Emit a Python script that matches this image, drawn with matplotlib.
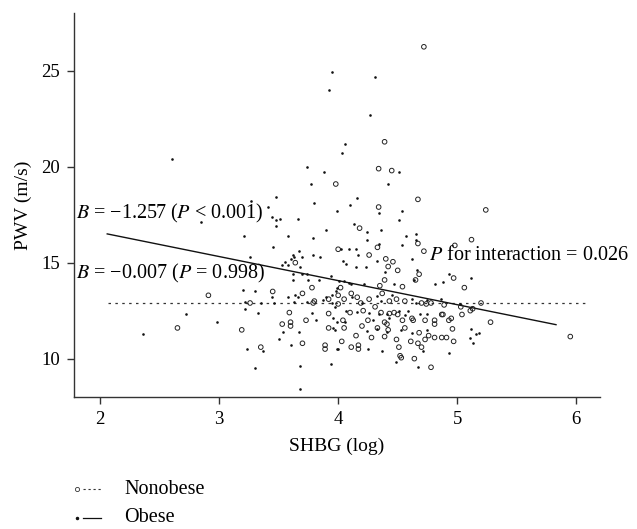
import matplotlib
matplotlib.use("Agg")
import matplotlib.pyplot as plt
from matplotlib.lines import Line2D

plt.rcParams['font.family'] = ['Liberation Serif', 'DejaVu Serif']
plt.rcParams['mathtext.fontset'] = 'stix'

# nonobese (open circles)
non_x = [2.65, 2.91, 3.19, 3.26, 3.35, 3.45, 3.53, 3.59, 3.60, 3.60, 3.70, 3.73, 3.70, 3.79, 3.64, 3.78,
         3.98, 4.72, 4.39, 4.34, 4.45, 4.67, 5.24, 4.34, 4.18, 4.67, 5.12, 4.98, 4.33, 4.72, 4.00, 4.26,
         3.80, 3.92, 3.92, 3.92, 3.89, 3.89,
         4.40, 4.42, 4.46, 4.50, 4.68, 4.65, 4.39, 4.35, 4.54, 4.02, 4.11, 4.37, 4.00, 4.05, 4.16, 4.26,
         4.43, 4.49, 4.56, 4.70, 4.74, 4.78, 4.00, 4.19, 4.31, 4.10, 4.21, 4.36, 4.43, 4.47, 4.50, 4.04,
         4.25, 4.39, 4.41, 4.54, 4.62, 4.63, 4.73, 4.81, 4.05, 4.20, 4.33, 4.42, 4.56, 4.68, 4.81, 4.15,
         4.28, 4.39, 4.49, 4.03, 4.61, 4.67, 4.70, 4.73, 4.76, 4.81, 4.11, 4.17, 4.17, 4.51, 4.52, 4.53,
         4.64, 4.78,
         4.97, 5.06, 4.89, 5.03, 5.11, 5.13, 5.20, 4.87, 4.88, 5.04, 4.93, 4.95, 5.28, 4.96, 4.87, 4.91,
         4.97, 5.95]
non_y = [11.6, 13.3, 11.5, 12.9, 10.6, 13.5, 11.8, 12.4, 11.9, 11.7, 10.8, 12.0, 13.4, 12.9, 15.0, 13.7,
         19.1, 26.25, 21.3, 19.9, 19.8, 18.3, 17.75, 17.9, 16.8, 16.0, 16.2, 15.9, 15.8, 15.6, 15.7, 15.4,
         13.0, 13.1, 12.35, 11.6, 10.7, 10.5,
         15.2, 14.8, 15.05, 14.6, 14.4, 14.1, 14.1, 13.8, 13.75, 13.7, 13.4, 13.4, 13.3, 13.1, 13.2, 13.1,
         13.0, 13.1, 13.0, 12.9, 12.85, 12.9, 12.85, 12.9, 12.7, 12.4, 12.5, 12.4, 12.35, 12.4, 12.3, 12.0,
         12.0, 11.9, 11.8, 12.0, 12.1, 12.0, 12.0, 12.0, 11.6, 11.7, 11.6, 11.5, 11.6, 11.35, 11.8, 11.2,
         11.1, 11.15, 11.0, 10.9, 10.9, 10.8, 10.6, 11.0, 11.2, 11.1, 10.6, 10.7, 10.5, 10.6, 10.15, 10.05,
         10.0, 9.55,
         14.2, 13.7, 12.8, 12.7, 12.5, 12.6, 12.9, 12.3, 12.3, 12.3, 12.0, 12.1, 11.9, 11.55, 11.1, 11.1,
         10.9, 11.15]

# obese (small dots)
ob_x = [2.60, 2.36, 2.72, 2.98, 3.20, 3.23, 3.30, 3.22, 3.33, 3.35, 3.37, 3.44, 3.50, 3.54, 3.60, 3.67,
        3.68, 3.68, 3.62, 3.64, 3.78, 3.81,
        3.74, 3.77, 3.80, 3.48, 3.41, 3.66, 3.44, 3.48, 3.51, 3.48, 3.27, 2.85, 3.21, 3.58, 3.79, 3.45,
        3.26, 3.88, 3.99, 3.90,
        3.95, 4.31, 3.92, 4.27, 4.06, 4.03, 4.51, 4.42, 4.10, 4.16, 4.34, 4.54, 4.51, 4.13, 4.24, 4.36,
        4.24, 4.57, 4.65, 4.65, 4.54, 4.09, 4.15, 4.34,
        3.67, 3.62, 3.63, 3.60, 3.70, 3.79, 3.85, 3.55, 3.53, 3.58, 3.68, 3.62, 3.70, 3.74, 3.75, 3.84,
        3.94, 3.30, 3.58, 3.66, 3.90, 3.95, 3.99,
        3.22, 3.46, 3.63, 3.74, 3.87, 3.95, 3.96, 3.96, 3.99, 3.99, 3.94,
        4.02, 4.04, 4.07, 4.15, 4.17, 4.23, 4.33, 4.39, 4.62, 4.66, 4.64, 4.81, 4.01, 4.05, 4.09, 4.11,
        4.22, 4.47, 3.98, 4.12, 4.20, 4.33, 4.36, 4.45, 4.62, 4.65, 4.75, 3.97, 4.07, 4.16, 4.26, 4.34,
        4.41, 4.51, 4.59, 4.69, 4.29, 4.43, 4.56, 4.75, 3.97, 4.06, 4.24, 4.33, 4.41, 4.53, 4.62, 4.75,
        4.00, 4.25, 4.37, 4.71, 4.49, 4.67,
        4.88, 4.93, 5.12, 4.86, 5.02, 5.12, 5.16, 5.18, 5.11, 5.13, 4.93]
ob_y = [20.4, 11.3, 12.3, 11.9, 13.6, 10.5, 9.5, 12.6, 12.4, 12.9, 10.4, 13.2, 11.0, 11.4, 10.7, 11.4,
        9.6, 8.4, 14.1, 13.3, 12.4, 12.0,
        20.0, 19.1, 18.1, 18.4, 17.9, 17.3, 17.4, 17.2, 17.3, 16.9, 18.2, 17.1, 16.4, 16.4, 16.3, 15.8,
        15.3, 19.7, 17.7, 16.7,
        24.95, 24.7, 24.0, 22.7, 21.2, 20.7, 19.7, 19.1, 18.0, 18.35, 17.6, 17.7, 17.2, 17.0, 16.6, 16.7,
        16.2, 16.4, 16.5, 16.2, 15.9, 15.7, 15.7, 15.95,
        15.6, 15.4, 15.3, 15.2, 15.3, 15.4, 15.3, 15.05, 14.9, 14.9, 14.8, 14.4, 14.4, 14.4, 14.1, 14.1,
        14.3, 13.5, 13.2, 13.2, 13.2, 13.3, 13.7,
        12.95, 12.9, 12.95, 12.95, 13.05, 12.9, 12.1, 11.6, 11.9, 10.5, 9.7,
        15.7, 15.1, 14.95, 14.8, 15.4, 14.8, 15.1, 14.5, 15.2, 14.6, 14.1, 13.9, 14.05, 14.05, 13.95, 13.9,
        13.9, 13.9, 13.5, 13.2, 12.9, 13.25, 13.0, 13.3, 13.1, 12.9, 13.05, 12.7, 12.5, 12.45, 12.4, 12.35,
        12.3, 12.5, 12.5, 12.35, 12.0, 12.1, 12.25, 12.3, 11.5, 11.9, 11.45, 11.55, 11.4, 11.5, 11.35, 11.5,
        10.5, 10.5, 10.4, 10.4, 9.8, 9.55,
        14.0, 14.4, 14.2, 13.1, 12.85, 11.55, 11.3, 11.35, 11.1, 10.8, 10.3]

# fitted lines
non_line_x = [2.07, 6.08]
non_line_y = [12.92, 12.92]
ob_line_x = [2.06, 5.83]
ob_line_y = [16.5, 11.77]

fig = plt.figure(figsize=(6.37, 5.29), dpi=100)
ax = fig.add_axes([0.116, 0.2495, 0.826, 0.7255])

ax.scatter(non_x, non_y, s=11, facecolors='none', edgecolors='#222222', linewidths=0.7, zorder=3)
ax.scatter(ob_x, ob_y, s=3.5, color='#111111', linewidths=0, zorder=3)
ax.plot(non_line_x, non_line_y, color='#333333', lw=0.9, linestyle=(0, (2, 3.5)))
ax.plot(ob_line_x, ob_line_y, color='#111111', lw=1.0)

ax.set_xlim(1.78, 6.2)
ax.set_ylim(8, 28)
ax.set_xticks([2, 3, 4, 5, 6])
ax.set_yticks([10, 15, 20, 25])
for s in ['top', 'right']:
    ax.spines[s].set_visible(False)
for s in ['left', 'bottom']:
    ax.spines[s].set_color('#333333')
    ax.spines[s].set_linewidth(1.0)
ax.tick_params(direction='out', length=5, width=1, color='#333333', labelsize=13.5, pad=5)
ax.set_xlabel('SHBG (log)', fontsize=14, labelpad=7)
ax.set_ylabel('PWV (m/s)', fontsize=14, labelpad=7)

ax.text(1.80, 17.55, r'$B$ = −1.257 ($P$ < 0.001)', fontsize=14.5, va='center', ha='left')
ax.text(1.80, 14.43, r'$B$ = −0.007 ($P$ = 0.998)', fontsize=14.5, va='center', ha='left')
ax.text(4.76, 15.36, r'$P$ for interaction = 0.026', fontsize=14.5, va='center', ha='left')

# legend below the axes
fig.add_artist(Line2D([77 / 637], [1 - 489 / 529], marker='o', markersize=3, mfc='none',
                      mec='#333333', mew=0.6, linestyle='none', transform=fig.transFigure))
fig.add_artist(Line2D([83 / 637, 101 / 637], [1 - 489 / 529] * 2, color='#333333', lw=0.8,
                      linestyle=(0, (2, 2.5)), transform=fig.transFigure))
fig.add_artist(Line2D([77 / 637], [1 - 518 / 529], marker='o', markersize=1.5, color='#111111',
                      linestyle='none', transform=fig.transFigure))
fig.add_artist(Line2D([83 / 637, 101 / 637], [1 - 518 / 529] * 2, color='#111111', lw=0.9,
                      transform=fig.transFigure))
fig.text(124 / 637, 1 - 489 / 529, 'Nonobese', fontsize=14.5, va='center', ha='left')
fig.text(124 / 637, 1 - 518 / 529, 'Obese', fontsize=14.5, va='center', ha='left')

fig.savefig('out.png', dpi=100)
